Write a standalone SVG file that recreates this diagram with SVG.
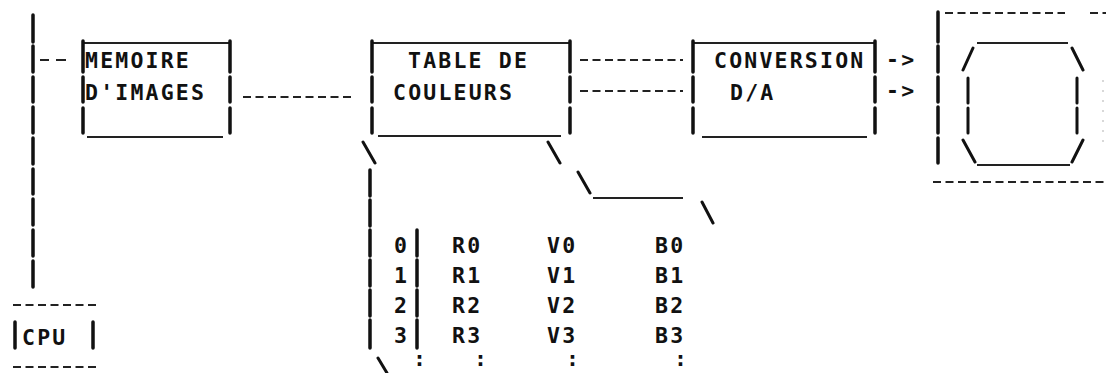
<svg xmlns="http://www.w3.org/2000/svg" width="1106" height="373" viewBox="0 0 1106 373">
<style>
.t{font-family:"DejaVu Sans Mono","Liberation Mono",monospace;font-weight:bold;font-size:21.5px;letter-spacing:2.2px;fill:#111}
.v{stroke:#111;stroke-width:3.5;stroke-linecap:round;fill:none}
.h{stroke:#222;stroke-width:2;fill:none}
.d{stroke:#222;stroke-width:2;fill:none;stroke-dasharray:8 4.5}
.s{stroke:#111;stroke-width:3;stroke-linecap:round;fill:none}
</style>
<rect width="1106" height="373" fill="#fff"/>
<g id="bus">
<path class="v" d="M33 15V42M33 46V72M33 77V102M33 107V133M33 138V164M33 169V194M33 199V225M33 230V256M33 261V287"/>
</g>
<g id="memoire">
<path class="h" d="M83 43H230M87 137H223"/>
<path class="v" d="M83 41V72M83 77V102M83 108V133M230 41V72M230 77V102M230 108V133"/>
<text class="t" x="85" y="68">MEMOIRE</text>
<text class="t" x="85" y="100">D'IMAGES</text>
</g>
<g id="table">
<path class="h" d="M372 43H570M378 136H561"/>
<path class="v" d="M372 41V72M372 77V102M372 108V133M570 41V72M570 77V102M570 108V133"/>
<text class="t" x="408" y="68">TABLE DE</text>
<text class="t" x="393" y="100">COULEURS</text>
</g>
<g id="conversion">
<path class="h" d="M693 43H875M702 137H867"/>
<path class="v" d="M693 41V72M693 77V102M693 108V133M875 41V72M875 77V102M875 108V133"/>
<text class="t" x="714" y="68">CONVERSION</text>
<text class="t" x="730" y="100">D/A</text>
</g>
<g id="monitor">
<path class="v" d="M938 12V42M938 46V72M938 77V102M938 107V133M938 138V163"/>
<path class="d" d="M945 13H1065M1090 13H1106M933 182H1106"/>
<path d="M1103 80V150" stroke="#ccc" stroke-width="1.5" stroke-dasharray="2 8"/>
<path class="h" d="M977 43H1068M977 165H1070"/>
<path class="s" d="M963 70L973 48M1072 48L1083 70M968 78V103M968 108V133M1077 78V103M1077 108V133M963 140L975 162M1083 140L1072 162"/>
</g>
<g id="cpu">
<path class="d" d="M13 305H100M13 367H100"/>
<path class="v" d="M15 322V348M93 322V348"/>
<text class="t" x="22" y="345">CPU</text>
</g>
<g id="palette">
<path class="s" d="M363 142L375 163M548 142L560 163M578 172L590 193M702 202L713 223M378 358L387 373"/>
<path class="h" d="M593 198H683"/>
<path class="v" d="M370 170V196M370 200V226M370 230V256M370 260V286M370 290V316M370 320V348M417 230V256M417 260V286M417 290V316M417 320V348"/>
<text class="t" x="394" y="253">0</text>
<text class="t" x="394" y="283">1</text>
<text class="t" x="394" y="313">2</text>
<text class="t" x="394" y="343">3</text>
<text class="t" x="452" y="253">R0</text>
<text class="t" x="452" y="283">R1</text>
<text class="t" x="452" y="313">R2</text>
<text class="t" x="452" y="343">R3</text>
<text class="t" x="547" y="253">V0</text>
<text class="t" x="547" y="283">V1</text>
<text class="t" x="547" y="313">V2</text>
<text class="t" x="547" y="343">V3</text>
<text class="t" x="655" y="253">B0</text>
<text class="t" x="655" y="283">B1</text>
<text class="t" x="655" y="313">B2</text>
<text class="t" x="655" y="343">B3</text>
<text class="t" x="413" y="366">:</text>
<text class="t" x="474" y="366">:</text>
<text class="t" x="566" y="366">:</text>
<text class="t" x="674" y="366">:</text>
</g>
<g id="connectors">
<path class="h" d="M40 60H49M56 60H66"/>
<path class="d" d="M243 97H355M580 60H683M580 91H683"/>
<text class="t" x="886" y="67">-&gt;</text>
<text class="t" x="886" y="98">-&gt;</text>
</g>
</svg>
